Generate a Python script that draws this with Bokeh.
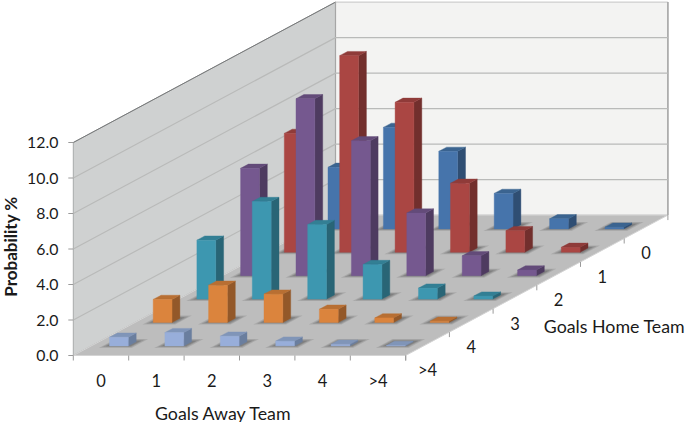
from bokeh.plotting import figure
from bokeh.embed import file_html
from bokeh.resources import INLINE
from bokeh.core.properties import value

away_labels = ["0", "1", "2", "3", "4", ">4"]
home_labels = ["0", "1", "2", "3", "4", ">4"]
y_ticks = [0, 2, 4, 6, 8, 10, 12]

home_0 = [3.47, 5.72, 4.37, 2.00, 0.57, 0.10]
home_1 = [6.70, 11.08, 8.45, 3.89, 1.22, 0.28]
home_2 = [6.05, 9.97, 7.60, 3.53, 1.12, 0.32]
home_3 = [3.32, 5.50, 4.20, 1.95, 0.62, 0.17]
home_4 = [1.30, 2.10, 1.60, 0.75, 0.26, 0.07]
home_5 = [0.49, 0.75, 0.55, 0.27, 0.09, 0.02]

series = [home_0, home_1, home_2, home_3, home_4, home_5]
front = ["#4674ab", "#aa4643", "#75588f", "#3d97b0", "#db843d", "#98aeda"]
side = ["#2f4e73", "#722f2d", "#4e3b60", "#296576", "#935829", "#6a7e9e"]
top = ["#3b6490", "#8f3b39", "#634b79", "#337f94", "#b86f33", "#8095b8"]

# oblique projection of the chart's 3D box onto the page
X0, Y0 = 72.8, 355.0
COL_DX = 55.4
DEP_DX, DEP_DY = 43.7, -23.4
UNIT = 17.75
BAR_W, BAR_D = 0.34, 0.18


def proj(col, dep, val=0.0):
    return (X0 + col * COL_DX + dep * DEP_DX, Y0 + dep * DEP_DY - val * UNIT)


def quad(*pts):
    xy = [proj(*q) for q in pts]
    return [a for a, _ in xy], [b for _, b in xy]


p = figure(width=685, height=422, x_range=(0, 685), y_range=(422, 0),
           output_backend="svg", toolbar_location=None, min_border=0)
p.axis.visible = False
p.grid.visible = False
p.outline_line_color = None
p.background_fill_color = "white"
p.border_fill_color = "white"

N = 6
VMAX = 12
# walls and floor
x, y = quad((0, 0, 0), (0, 0, VMAX), (0, N, VMAX), (0, N, 0))
p.patch(x, y, fill_color="#cfd1d1", line_color="#a8aaaa", line_width=1)
x, y = quad((0, N, 0), (0, N, VMAX), (N, N, VMAX), (N, N, 0))
p.patch(x, y, fill_color="#f3f3f2", line_color="#c4c4c4", line_width=1)
x, y = quad((0, 0, 0), (N, 0, 0), (N, N, 0), (0, N, 0))
p.patch(x, y, fill_color="#bdbdbd", line_color="#d4d4d4", line_width=1)

# edges with stronger tone
x, y = quad((0, 0, VMAX), (0, N, VMAX))
p.line(x, y, line_color="#77797a", line_width=1)
x, y = quad((0, N, 0), (0, N, VMAX))
p.line(x, y, line_color="#a6a6a6", line_width=1.2)
x, y = quad((N, N, 0), (N, N, VMAX))
p.line(x, y, line_color="#a6a6a6", line_width=1.5)

# gridlines
for t in y_ticks[1:-1]:
    x, y = quad((0, 0, t), (0, N, t), (N, N, t))
    p.line(x, y, line_color="#b9bab9", line_width=1.2)

# ticks
for t in y_ticks:
    x0, y0 = proj(0, 0, t)
    p.segment([x0 - 5], [y0], [x0], [y0], line_color="#9a9a9a", line_width=1)
for c in range(N + 1):
    x0, y0 = proj(c, 0)
    p.segment([x0], [y0], [x0], [y0 + 5], line_color="#9a9a9a", line_width=1)
for d in range(N + 1):
    x0, y0 = proj(N, d)
    p.segment([x0], [y0], [x0], [y0 + 5], line_color="#9a9a9a", line_width=1)

# shadows first, so that all bars stay above them
for r, vals in enumerate(series):
    dep = (N - 1 - r) + 0.41
    for c, v in enumerate(vals):
        c0 = c + 0.5 - BAR_W / 2
        for grow, alpha in ((0.035, 0.18), (0.0, 0.25), (-0.035, 0.32)):
            x, y = quad((c0 - 0.09 - grow, dep - 0.05 - grow, 0),
                        (c0 + BAR_W + 0.09 + grow, dep - 0.05 - grow, 0),
                        (c0 + BAR_W + 0.09 + grow, dep + 0.26 + grow, 0),
                        (c0 - 0.09 - grow, dep + 0.26 + grow, 0))
            p.patch(x, y, fill_color="#555555", fill_alpha=alpha, line_color=None)

# bars, from back to front
for r, vals in enumerate(series):
    dep = (N - 1 - r) + 0.41
    for c, v in enumerate(vals):
        c0 = c + 0.5 - BAR_W / 2
        c1 = c0 + BAR_W
        d1 = dep + BAR_D
        x, y = quad((c1, dep, 0), (c1, d1, 0), (c1, d1, v), (c1, dep, v))
        p.patch(x, y, fill_color=side[r], line_color=side[r], line_width=0.4)
        x, y = quad((c0, dep, v), (c1, dep, v), (c1, d1, v), (c0, d1, v))
        p.patch(x, y, fill_color=top[r], line_color=top[r], line_width=0.4)
        x, y = quad((c0, dep, 0), (c1, dep, 0), (c1, dep, v), (c0, dep, v))
        p.patch(x, y, fill_color=front[r], line_color=front[r], line_width=0.4)

FONT = value("Lato")
INK = "#1a1a1a"
# value axis labels
xs, ys = zip(*[proj(0, 0, t) for t in y_ticks])
p.text([a - 15 for a in xs], list(ys), text=[f"{t:.1f}" for t in y_ticks], text_font=FONT,
       text_font_size="15.8px", text_color=INK, text_align="right", text_baseline="middle")
# away-team labels
xs, ys = zip(*[proj(c + 0.5, 0) for c in range(N)])
p.text(list(xs), [b + 25 for b in ys], text=away_labels, text_font=FONT,
       text_font_size="16.5px", text_color=INK, text_align="center", text_baseline="middle")
# home-team labels
xs, ys = zip(*[proj(N, N - 0.5 - i) for i in range(N)])
p.text(list(xs), [b + 26 for b in ys], text=home_labels, text_font=FONT,
       text_font_size="16.5px", text_color=INK, text_align="center", text_baseline="middle")
# axis titles
p.text([223], [412], text=["Goals Away Team"], text_font=FONT, text_font_size="17.8px",
       text_color=INK, text_align="center", text_baseline="middle")
p.text([614], [325], text=["Goals Home Team"], text_font=FONT, text_font_size="17.8px",
       text_color=INK, text_align="center", text_baseline="middle")
p.text([10], [246], text=["Probability %"], angle=[90], angle_units="deg", text_font=FONT,
       text_font_size="17px", text_font_style="bold", text_color=INK,
       text_align="center", text_baseline="middle")

open("out.html", "w").write(file_html(p, INLINE))
